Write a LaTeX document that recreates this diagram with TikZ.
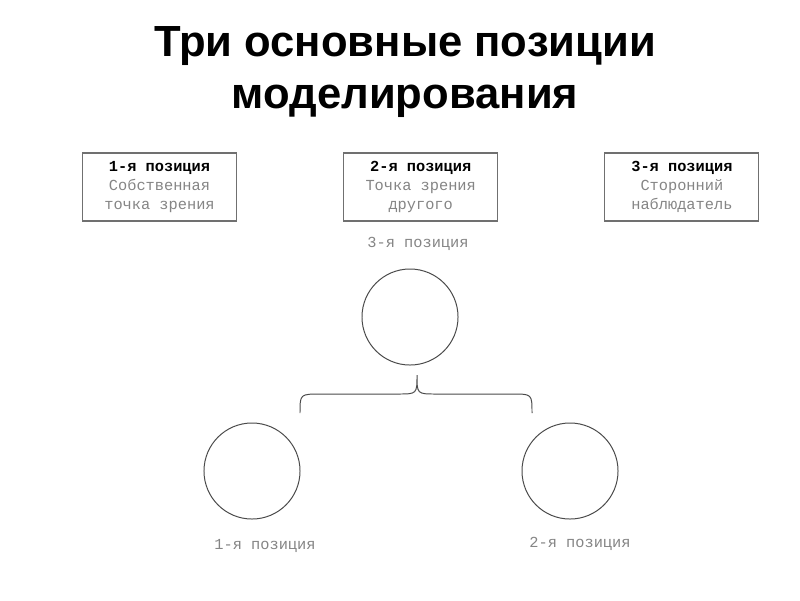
\documentclass[tikz,border=0pt]{standalone}
\usepackage{fontspec}
\setmainfont{Liberation Sans}
\setmonofont{Liberation Mono}
\usepackage{tikz}
\usetikzlibrary{positioning, calc}
\definecolor{boxline}{HTML}{707070}
\definecolor{textgray}{HTML}{858585}
\definecolor{circline}{HTML}{4A4A4A}
\tikzset{
  title/.style={
    align=center, text=black,
    font=\fontsize{31}{36.5}\selectfont\bfseries,
  },
  posbox/.style={
    rectangle, minimum width=3.85cm, minimum height=1.7cm,
    align=center, draw=boxline, line width=0.8pt,
    text=textgray, font=\ttfamily\fontsize{10.9}{13.5}\selectfont,
  },
  poscircle/.style={
    circle, minimum size=2.4cm, inner sep=0pt,
    draw=circline, line width=0.7pt,
  },
  poslabel/.style={text=textgray, font=\ttfamily\fontsize{10.9}{13.5}\selectfont},
  bracket/.style={draw=circline, line width=0.7pt},
}

\begin{document}
\begin{tikzpicture}[x=0.025cm, y=-0.025cm, node distance=2.65cm]

  \useasboundingbox[fill=white] (0,0) rectangle (800,600);

  \node[title] (title) at (405,72) {Три основные позиции\\моделирования};

  \node[posbox] (first) at (159.5,187) {\textcolor{black}{\bfseries 1-я позиция}\\Собственная\\точка зрения};
  \node[posbox, right=of first] (second) {\textcolor{black}{\bfseries 2-я позиция}\\Точка зрения\\другого};
  \node[posbox, right=of second] (third) {\textcolor{black}{\bfseries 3-я позиция}\\Сторонний\\наблюдатель};

  \node[poscircle] (observer) at (410,317) {};
  \node[poscircle] (self) at (252,471) {};
  \node[poscircle] (other) at (570,471) {};

  \node[poslabel] (observerlabel) at (418,244) {3-я позиция};
  \node[poslabel] (selflabel) at (265,546) {1-я позиция};
  \node[poslabel] (otherlabel) at (580,544) {2-я позиция};

  \coordinate (braceL) at (300,413);
  \coordinate (braceR) at (532,413);
  \coordinate (tip) at (417,375);
  \draw[bracket] (braceL) .. controls (300,394) .. (321,394) -- (398,394)
    .. controls (417,394) .. (tip) .. controls (417,394) .. (436,394)
    -- (512,394) .. controls (532,394) .. (braceR);

\end{tikzpicture}
\end{document}
